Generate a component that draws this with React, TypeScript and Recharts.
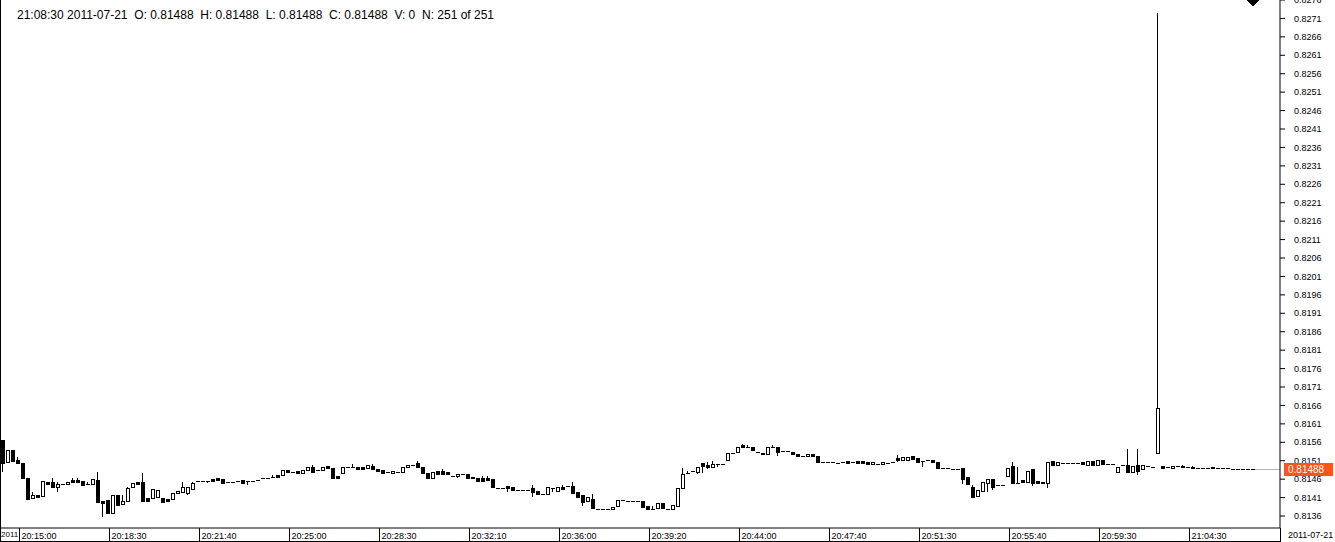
import React from 'react';
import { ComposedChart, Bar, XAxis, YAxis } from 'recharts';

const opens = [
  0.81566, 0.81506, 0.81539, 0.81512, 0.81504, 0.81463, 0.81409, 0.81417, 0.81414, 0.81452,
  0.81452, 0.81439, 0.81447, 0.81447, 0.81458, 0.81458, 0.81455, 0.81447, 0.81447, 0.81458,
  0.81401, 0.81403, 0.81368, 0.81417, 0.81393, 0.81401, 0.81439, 0.81452, 0.81452, 0.81409,
  0.81409, 0.81412, 0.81409, 0.81406, 0.81406, 0.81422, 0.81425, 0.81422, 0.81433, 0.81455,
  0.81456, 0.81455, 0.8146, 0.81463, 0.8146, 0.81452, 0.81452, 0.81455, 0.81458, 0.81455,
  0.81455, 0.81457, 0.81463, 0.81463, 0.81466, 0.81471, 0.81471, 0.81485, 0.81479, 0.81482,
  0.81477, 0.81485, 0.81493, 0.81485, 0.81485, 0.81496, 0.8149, 0.81468, 0.81477, 0.81493,
  0.81493, 0.81493, 0.81493, 0.8149, 0.81496, 0.81487, 0.81485, 0.81479, 0.81477, 0.81479,
  0.81479, 0.81493, 0.81498, 0.81504, 0.81493, 0.81477, 0.81463, 0.81482, 0.81482, 0.81479,
  0.81468, 0.81468, 0.81474, 0.81474, 0.81466, 0.81463, 0.81463, 0.81463, 0.8146, 0.81436,
  0.81436, 0.81441, 0.81439, 0.8143, 0.8143, 0.8143, 0.81436, 0.81428, 0.8142, 0.8142,
  0.81436, 0.81428, 0.81439, 0.81441, 0.81441, 0.81425, 0.81417, 0.81401, 0.81406, 0.81379,
  0.81379, 0.81379, 0.81379, 0.81387, 0.81403, 0.81401, 0.81401, 0.81401, 0.81401, 0.81387,
  0.81379, 0.81382, 0.81395, 0.81379, 0.81379, 0.81387, 0.81436, 0.81477, 0.81482, 0.81479,
  0.81504, 0.81498, 0.81493, 0.81501, 0.81501, 0.81512, 0.81531, 0.81533, 0.81552, 0.81547,
  0.81547, 0.81534, 0.81531, 0.81528, 0.81547, 0.81547, 0.81536, 0.81536, 0.81533, 0.81528,
  0.81523, 0.81523, 0.81528, 0.81523, 0.81506, 0.81506, 0.81506, 0.81504, 0.81506, 0.81509,
  0.81506, 0.81509, 0.81509, 0.81506, 0.81501, 0.81501, 0.81501, 0.81504, 0.81506, 0.81517,
  0.81512, 0.81512, 0.81523, 0.81517, 0.81509, 0.81512, 0.81512, 0.81506, 0.8149, 0.8149,
  0.81488, 0.81487, 0.8149, 0.81466, 0.81439, 0.81414, 0.81428, 0.81449, 0.8146, 0.81444,
  0.81444, 0.81468, 0.81496, 0.81449, 0.81458, 0.81452, 0.81487, 0.81455, 0.81452, 0.81449,
  0.81509, 0.81498, 0.81504, 0.81504, 0.81504, 0.81504, 0.81506, 0.81498, 0.81509, 0.81498,
  0.81512, 0.81501, 0.81501, 0.81479, 0.81498, 0.81498, 0.81479, 0.81498, 0.81487, 0.81496,
  0.81493, 0.81531, 0.81496, 0.81493, 0.8149, 0.81496, 0.81496, 0.81493, 0.81493, 0.8149,
  0.8149, 0.8149, 0.8149, 0.8149, 0.8149, 0.8149, 0.81488, 0.81488, 0.81488, 0.81488,
  0.81488,
];

const highs = [
  0.81566, 0.81539, 0.81539, 0.8152, 0.81504, 0.81463, 0.81425, 0.81417, 0.81455, 0.81452,
  0.81463, 0.81452, 0.81447, 0.81452, 0.81463, 0.81463, 0.81455, 0.81452, 0.8146, 0.81479,
  0.81401, 0.81403, 0.81417, 0.81417, 0.81417, 0.81439, 0.81449, 0.81452, 0.81477, 0.81409,
  0.81433, 0.8143, 0.81409, 0.81406, 0.81422, 0.81428, 0.81452, 0.81439, 0.81452, 0.81455,
  0.81456, 0.81455, 0.8146, 0.81463, 0.8146, 0.81452, 0.81452, 0.81455, 0.81458, 0.81455,
  0.81455, 0.81457, 0.81463, 0.81463, 0.81471, 0.81471, 0.81485, 0.81485, 0.81479, 0.81482,
  0.81485, 0.81493, 0.81498, 0.81485, 0.81493, 0.81496, 0.8149, 0.81468, 0.81493, 0.81493,
  0.81501, 0.81493, 0.81493, 0.81498, 0.81501, 0.81487, 0.81485, 0.81479, 0.81482, 0.81479,
  0.81493, 0.81498, 0.81498, 0.81509, 0.81493, 0.81477, 0.81479, 0.81482, 0.81487, 0.81479,
  0.81468, 0.81474, 0.81474, 0.81474, 0.81466, 0.81463, 0.81468, 0.81468, 0.8146, 0.81436,
  0.81436, 0.81441, 0.81439, 0.8143, 0.8143, 0.8143, 0.81444, 0.81428, 0.8142, 0.81439,
  0.81436, 0.81439, 0.81444, 0.81441, 0.81452, 0.81425, 0.81417, 0.81412, 0.8142, 0.81379,
  0.81379, 0.81379, 0.81384, 0.81403, 0.81403, 0.81401, 0.81401, 0.81401, 0.81401, 0.81387,
  0.81387, 0.81395, 0.81395, 0.81379, 0.8139, 0.81436, 0.8149, 0.81482, 0.81482, 0.81493,
  0.81504, 0.81506, 0.81509, 0.81501, 0.81501, 0.81531, 0.81531, 0.81547, 0.81555, 0.81552,
  0.81547, 0.81534, 0.81531, 0.81547, 0.81552, 0.81547, 0.81536, 0.81536, 0.81533, 0.81528,
  0.81523, 0.81528, 0.81528, 0.81523, 0.81506, 0.81506, 0.81506, 0.81504, 0.81506, 0.81509,
  0.81506, 0.81509, 0.81509, 0.81506, 0.81506, 0.81501, 0.81506, 0.81504, 0.81506, 0.81525,
  0.8152, 0.8152, 0.81523, 0.81517, 0.81509, 0.81512, 0.81512, 0.81506, 0.8149, 0.8149,
  0.81488, 0.81487, 0.8149, 0.81466, 0.81444, 0.8143, 0.81452, 0.8146, 0.8146, 0.81444,
  0.81444, 0.8149, 0.81506, 0.81493, 0.81458, 0.81482, 0.81487, 0.81455, 0.81452, 0.81506,
  0.81509, 0.81506, 0.81504, 0.81504, 0.81504, 0.81504, 0.81506, 0.81509, 0.81509, 0.81512,
  0.81512, 0.81501, 0.81501, 0.81493, 0.81498, 0.81542, 0.81496, 0.81542, 0.81498, 0.81496,
  0.81493, 0.82726, 0.81496, 0.81493, 0.81496, 0.81496, 0.81498, 0.81493, 0.81496, 0.8149,
  0.8149, 0.8149, 0.81493, 0.8149, 0.8149, 0.8149, 0.81488, 0.81488, 0.81488, 0.81488,
  0.81488,
];

const lows = [
  0.81479, 0.81506, 0.81509, 0.81504, 0.81463, 0.81403, 0.81409, 0.81409, 0.81414, 0.81447,
  0.81439, 0.81425, 0.81447, 0.81447, 0.81452, 0.81449, 0.81444, 0.81447, 0.81447, 0.81398,
  0.81357, 0.81368, 0.81368, 0.8139, 0.81393, 0.81401, 0.81439, 0.81447, 0.81401, 0.81401,
  0.81409, 0.81412, 0.81398, 0.81401, 0.81406, 0.81422, 0.81425, 0.81417, 0.81433, 0.81455,
  0.81456, 0.81449, 0.81455, 0.81458, 0.81449, 0.81452, 0.81452, 0.81455, 0.81449, 0.81444,
  0.81455, 0.81457, 0.81463, 0.81463, 0.81466, 0.81466, 0.81471, 0.81479, 0.81479, 0.81477,
  0.81477, 0.81485, 0.81477, 0.81485, 0.81485, 0.8149, 0.81463, 0.81463, 0.81477, 0.81493,
  0.81493, 0.81487, 0.81487, 0.8149, 0.81487, 0.81482, 0.81477, 0.81477, 0.81477, 0.81479,
  0.81479, 0.81493, 0.81498, 0.81493, 0.81477, 0.81463, 0.81463, 0.81474, 0.81474, 0.81474,
  0.81468, 0.81463, 0.81474, 0.8146, 0.81463, 0.81455, 0.81452, 0.81458, 0.81439, 0.81436,
  0.81436, 0.81425, 0.8143, 0.8143, 0.8143, 0.8143, 0.81412, 0.8142, 0.8142, 0.8142,
  0.81425, 0.81428, 0.81433, 0.81441, 0.81422, 0.81412, 0.81387, 0.81401, 0.81382, 0.81379,
  0.81379, 0.81379, 0.81379, 0.81387, 0.81401, 0.81401, 0.81401, 0.81401, 0.81384, 0.81379,
  0.81379, 0.81382, 0.81382, 0.81379, 0.81379, 0.81387, 0.81436, 0.81477, 0.81482, 0.81474,
  0.81477, 0.81487, 0.81493, 0.81493, 0.81501, 0.81512, 0.81531, 0.81533, 0.81547, 0.81547,
  0.81539, 0.81534, 0.81528, 0.81528, 0.81547, 0.81523, 0.81536, 0.81536, 0.81528, 0.81523,
  0.81523, 0.81523, 0.81523, 0.81506, 0.81506, 0.81506, 0.81506, 0.81504, 0.81506, 0.81504,
  0.81504, 0.81504, 0.81504, 0.81501, 0.81501, 0.81501, 0.81501, 0.81504, 0.81506, 0.81506,
  0.81512, 0.81512, 0.81515, 0.81506, 0.81493, 0.81512, 0.81506, 0.8149, 0.8149, 0.8149,
  0.81488, 0.81487, 0.81447, 0.81447, 0.81412, 0.81414, 0.81428, 0.81425, 0.8143, 0.81444,
  0.81444, 0.81468, 0.81449, 0.81447, 0.81452, 0.81452, 0.81441, 0.81449, 0.81449, 0.81436,
  0.81498, 0.81498, 0.81504, 0.81504, 0.81504, 0.81504, 0.81501, 0.81498, 0.81498, 0.81498,
  0.81501, 0.81501, 0.81501, 0.81479, 0.81496, 0.81479, 0.81479, 0.81471, 0.81487, 0.81496,
  0.81493, 0.81531, 0.8149, 0.81493, 0.8149, 0.81496, 0.81493, 0.81493, 0.8149, 0.8149,
  0.8149, 0.8149, 0.81488, 0.8149, 0.8149, 0.8149, 0.81488, 0.81488, 0.81488, 0.81488,
  0.81488,
];

const closes = [
  0.81504, 0.81539, 0.81509, 0.81504, 0.81463, 0.81406, 0.81417, 0.81412, 0.81455, 0.81447,
  0.81439, 0.81447, 0.81447, 0.81452, 0.81452, 0.81452, 0.81444, 0.81447, 0.8146, 0.81398,
  0.81395, 0.81368, 0.81417, 0.8139, 0.81401, 0.81436, 0.81449, 0.81447, 0.81401, 0.81401,
  0.81433, 0.8143, 0.81398, 0.81401, 0.81422, 0.81428, 0.81439, 0.81439, 0.81449, 0.81455,
  0.81456, 0.81455, 0.81455, 0.81458, 0.81449, 0.81452, 0.81452, 0.81455, 0.81449, 0.81455,
  0.81455, 0.81457, 0.81463, 0.81463, 0.81466, 0.81466, 0.81485, 0.81479, 0.81479, 0.81477,
  0.81485, 0.81493, 0.81479, 0.81485, 0.81493, 0.8149, 0.81463, 0.81463, 0.81493, 0.81493,
  0.81493, 0.81487, 0.81487, 0.81498, 0.81487, 0.81482, 0.81477, 0.81477, 0.81482, 0.81479,
  0.81493, 0.81498, 0.81498, 0.81493, 0.81477, 0.81463, 0.81479, 0.81474, 0.81474, 0.81474,
  0.81468, 0.81474, 0.81474, 0.81463, 0.81463, 0.81455, 0.81455, 0.81458, 0.81439, 0.81436,
  0.81436, 0.81436, 0.8143, 0.8143, 0.8143, 0.8143, 0.81425, 0.8142, 0.8142, 0.81439,
  0.81436, 0.81439, 0.81433, 0.81441, 0.81422, 0.81412, 0.81398, 0.81412, 0.81382, 0.81379,
  0.81379, 0.81379, 0.81384, 0.81403, 0.81401, 0.81401, 0.81401, 0.81401, 0.81384, 0.81379,
  0.81379, 0.81395, 0.81382, 0.81379, 0.8139, 0.81436, 0.81474, 0.81477, 0.81482, 0.81493,
  0.81496, 0.81493, 0.81501, 0.81501, 0.81501, 0.81531, 0.81531, 0.81547, 0.81547, 0.81547,
  0.81539, 0.81534, 0.81528, 0.81547, 0.81547, 0.81533, 0.81536, 0.81536, 0.81528, 0.81523,
  0.81523, 0.81528, 0.81523, 0.81506, 0.81506, 0.81506, 0.81506, 0.81504, 0.81506, 0.81504,
  0.81504, 0.81504, 0.81504, 0.81501, 0.81506, 0.81501, 0.81506, 0.81504, 0.81506, 0.81512,
  0.8152, 0.8152, 0.81515, 0.81506, 0.81509, 0.81512, 0.81506, 0.8149, 0.8149, 0.8149,
  0.81488, 0.81487, 0.8146, 0.81447, 0.81412, 0.8143, 0.81452, 0.8146, 0.81439, 0.81444,
  0.81444, 0.8149, 0.81449, 0.81447, 0.81452, 0.81482, 0.81449, 0.81449, 0.81449, 0.81506,
  0.81498, 0.81506, 0.81504, 0.81504, 0.81504, 0.81504, 0.81501, 0.81509, 0.81498, 0.81512,
  0.81501, 0.81501, 0.81501, 0.81493, 0.81496, 0.81479, 0.81496, 0.81482, 0.81498, 0.81496,
  0.81493, 0.81653, 0.8149, 0.81493, 0.81496, 0.81496, 0.81493, 0.81493, 0.8149, 0.8149,
  0.8149, 0.8149, 0.81493, 0.8149, 0.8149, 0.8149, 0.81488, 0.81488, 0.81488, 0.81488,
  0.81488,
];

const timeLabels = [
  '20:15:00', '20:18:30', '20:21:40', '20:25:00', '20:28:30', '20:32:10', '20:36:00',
  '20:39:20', '20:44:00', '20:47:40', '20:51:30', '20:55:40', '20:59:30', '21:04:30',
];
const timeTickIndex = [4, 22, 40, 58, 76, 94, 112, 130, 148, 166, 184, 202, 220, 238];

const priceTicks = [
  0.8136, 0.8141, 0.8146, 0.8151, 0.8156, 0.8161, 0.8166, 0.8171, 0.8176, 0.8181,
  0.8186, 0.8191, 0.8196, 0.8201, 0.8206, 0.8211, 0.8216, 0.8221, 0.8226, 0.8231,
  0.8236, 0.8241, 0.8246, 0.8251, 0.8256, 0.8261, 0.8266, 0.8271, 0.8276,
];

const headerText =
  '21:08:30 2011-07-21  O: 0.81488  H: 0.81488  L: 0.81488  C: 0.81488  V: 0  N: 251 of 251';
const dateText = '2011-07-21';
const yearText = '2011';

const W = 1335;
const H = 542;
const Y_AXIS_W = 54;
const TAG_AXIS_W = 1;
const X_AXIS_H = 14;
const PLOT_RIGHT = W - Y_AXIS_W - TAG_AXIS_W;
const PLOT_BOTTOM = H - X_AXIS_H;
const FONT = '"Liberation Sans", Arial, sans-serif';
const LAST = closes.length - 1;
const PRICE_DOMAIN = [0.813275, 0.8276];

const data = opens.map((o, i) => ({
  i,
  o,
  h: highs[i],
  l: lows[i],
  c: closes[i],
  range: [lows[i], highs[i]],
}));

const Candle = (props: any) => {
  const { x, y, width, height, payload } = props;
  if (x == null || y == null || !payload) return null;
  const { o, h, l, c, i } = payload;
  const cx = Math.round(x + width / 2) - 0.5;
  const span = h - l;
  const hgt = Math.abs(height || 0);
  const ratio = span > 0 ? hgt / span : 0;
  const py = (v: number) => y + (h - v) * ratio;
  const top = py(Math.max(o, c));
  const bot = py(Math.min(o, c));
  const bull = c > o;
  const parts: any[] = [];
  if (hgt > 0) {
    parts.push(<line key="w" x1={cx} y1={y} x2={cx} y2={y + hgt} stroke="#000" strokeWidth={1} />);
  }
  if (bot - top < 1) {
    parts.push(<line key="d" x1={cx - 2} y1={Math.round(top) + 0.5} x2={cx + 2.5} y2={Math.round(top) + 0.5} stroke="#000" strokeWidth={1} />);
  } else {
    parts.push(
      <rect key="b" x={cx - 1.5} y={Math.round(top) + 0.5} width={3} height={Math.max(1, Math.round(bot - top))}
        fill={bull ? '#fff' : '#000'} stroke="#000" strokeWidth={1} />
    );
  }
  if (i === LAST) {
    const cy = Math.round(py(c)) + 0.5;
    parts.push(<line key="g" x1={cx + 2.5} y1={cy} x2={PLOT_RIGHT} y2={cy} stroke="#b4b4b4" strokeWidth={1} />);
    parts.push(<path key="t" d={`M${cx - 6.5},0 L${cx + 6.5},0 L${cx},6.5 Z`} fill="#000" />);
  }
  return <g shapeRendering="crispEdges">{parts}</g>;
};

const XTick = (props: any) => {
  const { x, y, payload } = props;
  const k = timeTickIndex.indexOf(payload.value);
  if (k < 0) return null;
  const sx = Math.round(x - 2.5) - 0.5;
  return (
    <g>
      <line x1={sx} y1={y} x2={sx} y2={y + 13} stroke="#000" strokeWidth={1} shapeRendering="crispEdges" />
      <text x={sx + 2} y={y + 10.5} fontSize={9} fill="#000" fontFamily={FONT}>{timeLabels[k]}</text>
    </g>
  );
};

const PriceTag = (props: any) => {
  const { y, payload } = props;
  if (y == null || !payload) return null;
  const cy = Math.round(y);
  return (
    <g>
      <rect x={PLOT_RIGHT + 4} y={cy - 6} width={49} height={13} fill="#FF5418" shapeRendering="crispEdges" />
      <text x={PLOT_RIGHT + 8} y={cy + 4} fill="#fff" fontSize={10} fontFamily={FONT}>
        {Number(payload.value).toFixed(5)}
      </text>
    </g>
  );
};

export default function App() {
  return (
    <div style={{ position: 'absolute', left: 0, top: 0, width: W, height: H, background: '#fff', overflow: 'hidden' }}>
      <ComposedChart width={W} height={H} data={data} margin={{ top: 0, right: 0, bottom: 0, left: 0 }}>
        <XAxis
          dataKey="i"
          type="category"
          ticks={timeTickIndex}
          interval={0}
          tick={<XTick />}
          tickLine={false}
          tickSize={0}
          tickMargin={0}
          height={X_AXIS_H}
          axisLine={{ stroke: '#000' }}
          padding={{ left: 0, right: 25 }}
        />
        <YAxis
          orientation="right"
          type="number"
          domain={PRICE_DOMAIN}
          allowDataOverflow
          ticks={priceTicks}
          interval={0}
          width={Y_AXIS_W}
          tickFormatter={(v: number) => v.toFixed(4)}
          tick={{ fontSize: 9, fill: '#000', fontFamily: FONT }}
          tickSize={5}
          tickMargin={9}
          axisLine={{ stroke: '#000' }}
          tickLine={{ stroke: '#000' }}
        />
        <YAxis
          yAxisId="tag"
          orientation="right"
          type="number"
          domain={PRICE_DOMAIN}
          allowDataOverflow
          ticks={[closes[LAST]]}
          interval={0}
          width={TAG_AXIS_W}
          tick={<PriceTag />}
          axisLine={false}
          tickLine={false}
        />
        <Bar dataKey="range" shape={<Candle />} isAnimationActive={false} />
      </ComposedChart>
      <div style={{ position: 'absolute', left: 17, top: 8, fontFamily: FONT, fontSize: 12, whiteSpace: 'pre', color: '#000' }}>
        {headerText}
      </div>
      <div style={{ position: 'absolute', left: 1, top: 529, fontFamily: FONT, fontSize: 8, whiteSpace: 'pre', color: '#000', lineHeight: '12px' }}>
        {yearText}
      </div>
      <div style={{ position: 'absolute', left: 1288, top: 529, fontFamily: FONT, fontSize: 9, whiteSpace: 'pre', color: '#000', lineHeight: '12px' }}>
        {dateText}
      </div>
      <div style={{ position: 'absolute', left: 0, top: 0, width: 1, height: H, background: '#000' }} />
      <div style={{ position: 'absolute', left: 0, top: H - 1, width: PLOT_RIGHT + 1, height: 1, background: '#000' }} />
      <div style={{ position: 'absolute', left: PLOT_RIGHT, top: PLOT_BOTTOM, width: 1, height: X_AXIS_H, background: '#000' }} />
    </div>
  );
}
